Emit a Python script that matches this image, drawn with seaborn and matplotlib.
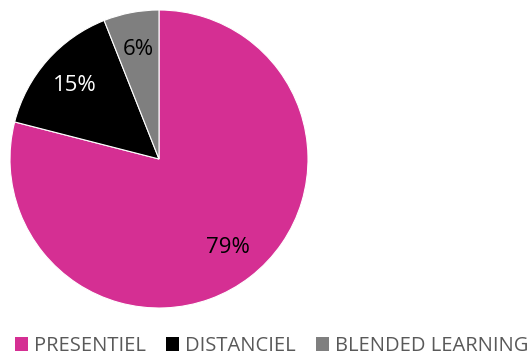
import matplotlib
matplotlib.use("Agg")
import matplotlib.pyplot as plt
import seaborn as sns
from matplotlib.patches import Patch

categories = ["PRESENTIEL", "DISTANCIEL", "BLENDED LEARNING"]
values = [79, 15, 6]
colors = ["#D52F93", "#000000", "#7F7F7F"]
label_colors = ["black", "white", "black"]

sns.set_theme(style="white")
plt.rcParams['font.family'] = ['Open Sans', 'DejaVu Sans']

fig = plt.figure(figsize=(5.31, 3.56), dpi=100)
W, H = 531, 356
ax = fig.add_axes([10 / W, (H - 308) / H, 298 / W, 298 / H])
wedges, texts, autotexts = ax.pie(
    values, colors=sns.color_palette(colors), startangle=90, counterclock=False,
    autopct='%.0f%%', pctdistance=0.75, radius=1.0,
    wedgeprops=dict(linewidth=0.8, edgecolor='white'),
    textprops=dict(fontsize=16))
for t, c in zip(autotexts, label_colors):
    t.set_color(c)
ax.set_xlim(-1, 1)
ax.set_ylim(-1, 1)
ax.set_aspect('equal')
ax.axis('off')

handles = [Patch(facecolor=c, edgecolor='none') for c in colors]
leg = fig.legend(handles, categories, loc='center', bbox_to_anchor=(272 / W, 1 - 346 / H),
                 ncol=3, frameon=False, fontsize=14.5, handlelength=0.65, handleheight=0.65,
                 handletextpad=0.3, columnspacing=1.0, borderaxespad=0)
for t in leg.get_texts():
    t.set_color('#595959')

fig.savefig("out.png", dpi=100)
